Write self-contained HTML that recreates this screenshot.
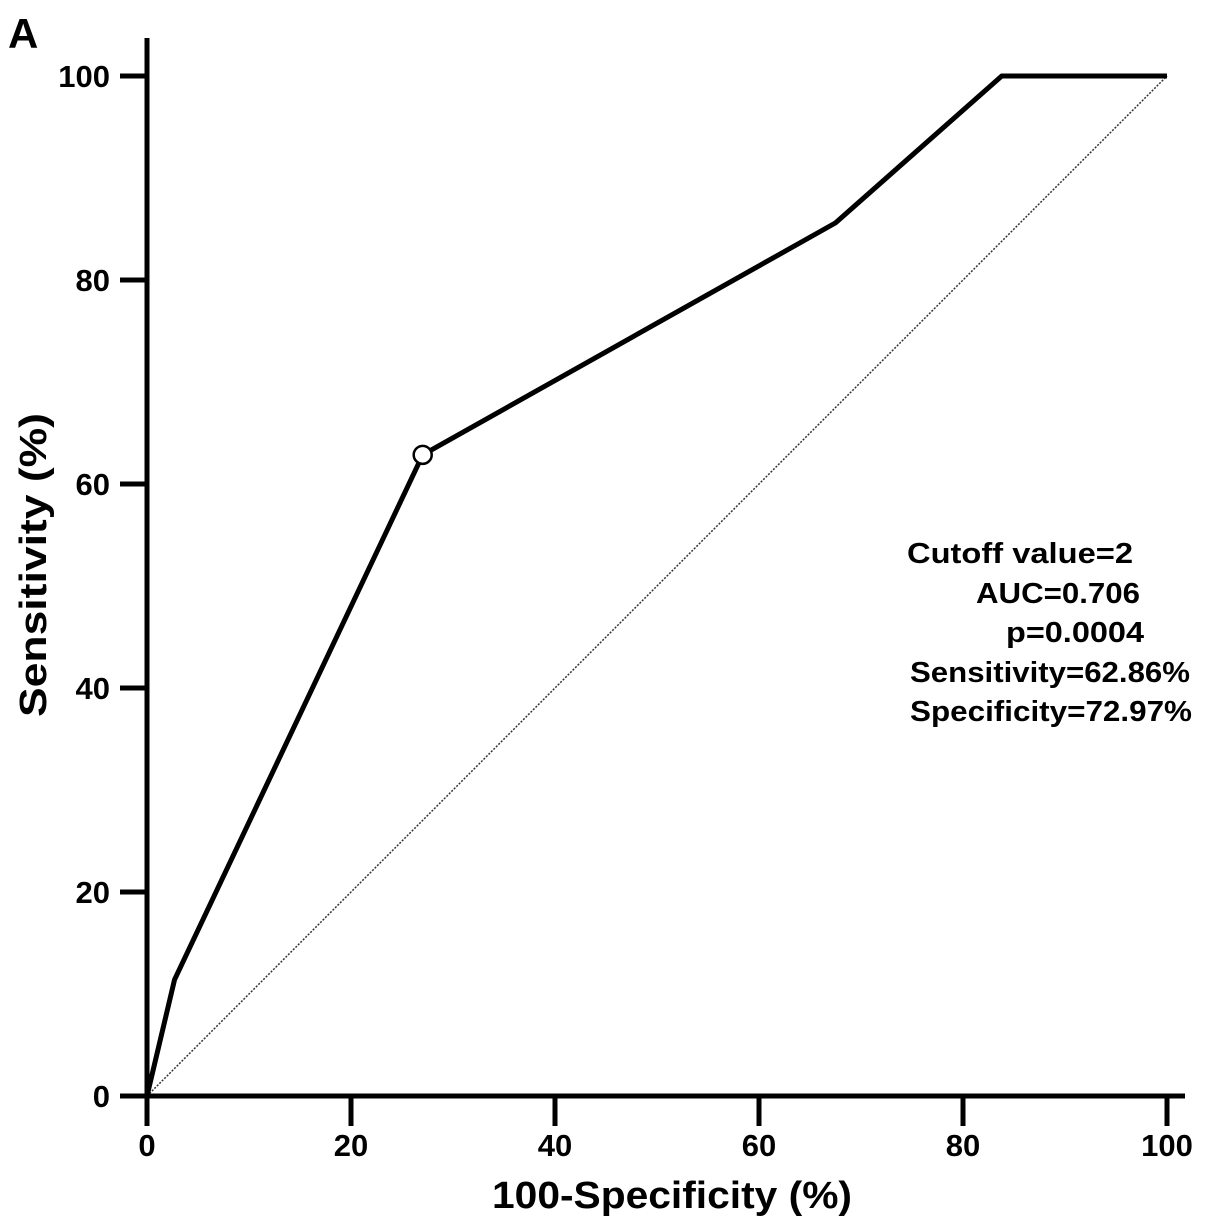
<!DOCTYPE html>
<html><head><meta charset="utf-8"><style>
html,body{margin:0;padding:0;background:#fff;}
svg{display:block;font-family:"Liberation Sans",Arial,sans-serif;font-weight:bold;}
</style></head><body>
<svg id="chart" width="1205" height="1230" viewBox="0 0 1205 1230">
<text x="8" y="48" font-size="42">A</text>
<g id="axes"></g>
<g id="marks"></g>
<text x="672" y="1208" font-size="38" text-anchor="middle" textLength="360" lengthAdjust="spacingAndGlyphs">100-Specificity (%)</text>
<text transform="translate(46,565) rotate(-90)" font-size="38" text-anchor="middle" textLength="304" lengthAdjust="spacingAndGlyphs">Sensitivity (%)</text>
<g font-size="29">
<text x="907" y="563" textLength="226" lengthAdjust="spacingAndGlyphs">Cutoff value=2</text>
<text x="976" y="603" textLength="164" lengthAdjust="spacingAndGlyphs">AUC=0.706</text>
<text x="1006" y="642" textLength="138" lengthAdjust="spacingAndGlyphs">p=0.0004</text>
<text x="910" y="682" textLength="280" lengthAdjust="spacingAndGlyphs">Sensitivity=62.86%</text>
<text x="910" y="721" textLength="282" lengthAdjust="spacingAndGlyphs">Specificity=72.97%</text>
</g>
</svg>
<script>
const xTicks=[0,20,40,60,80,100];
const yTicks=[0,20,40,60,80,100];
const rocX=[0,2.7,27.03,67.5,83.8,100];
const rocY=[0,11.4,62.86,85.6,100,100];
const cutX=[27.03];
const cutY=[62.86];
const refX=[0,100];
const refY=[0,100];
const X0=147,X1=1167,Y0=1096,Y1=76;
const sx=v=>X0+(X1-X0)*v/100;
const sy=v=>Y0-(Y0-Y1)*v/100;
const NS="http://www.w3.org/2000/svg";
function mk(tag,attrs,parent){const e=document.createElementNS(NS,tag);for(const k in attrs)e.setAttribute(k,attrs[k]);parent.appendChild(e);return e;}
const axes=document.getElementById('axes'),marks=document.getElementById('marks');
let e;
e=mk('line',{x1:120,y1:Y0,x2:1185,y2:Y0,stroke:'#000','stroke-width':5},axes);


e=mk('line',{x1:X0,y1:1126,x2:X0,y2:38,stroke:'#000','stroke-width':5},axes);


xTicks.forEach(t=>{
 e=mk('line',{x1:sx(t),y1:Y0,x2:sx(t),y2:1126,stroke:'#000','stroke-width':5},axes);
 
 
 e=mk('text',{x:sx(t),y:1156,'font-size':31,'text-anchor':'middle'},axes);e.textContent=t;
 
 
});
yTicks.forEach(t=>{
 e=mk('line',{x1:120,y1:sy(t),x2:X0,y2:sy(t),stroke:'#000','stroke-width':5},axes);
 
 
 e=mk('text',{x:110,y:sy(t)+11,'font-size':31,'text-anchor':'end'},axes);e.textContent=t;
 
 
});
e=mk('line',{x1:sx(refX[0]),y1:sy(refY[0]),x2:sx(refX[1]),y2:sy(refY[1]),stroke:'#333','stroke-width':1.5,'stroke-dasharray':'2,1.5'},marks);


e=mk('polyline',{points:rocX.map((x,i)=>sx(x)+','+sy(rocY[i])).join(' '),fill:'none',stroke:'#000','stroke-width':5,'stroke-linejoin':'round'},marks);


cutX.forEach((x,i)=>{
 e=mk('circle',{cx:sx(x),cy:sy(cutY[i]),r:9,fill:'#fff',stroke:'#000','stroke-width':2.5},marks);
 
 
});
</script>
</body></html>
